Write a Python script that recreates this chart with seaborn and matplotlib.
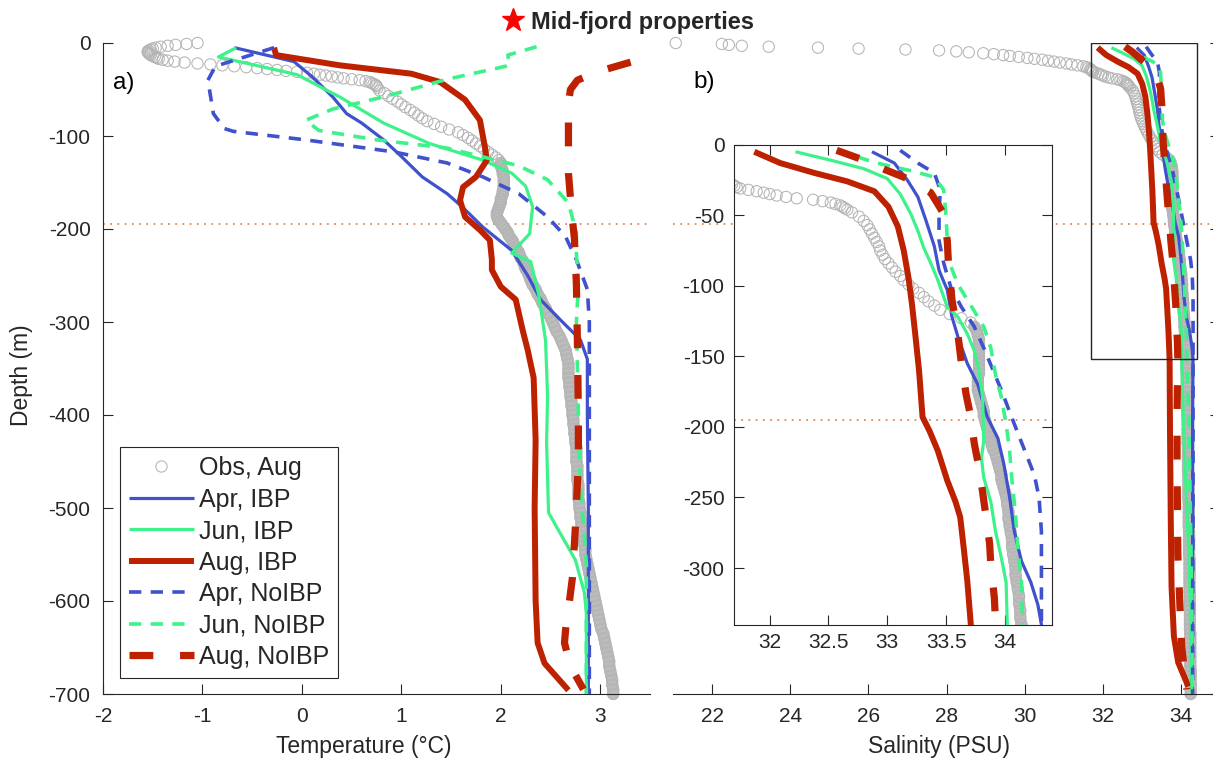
import matplotlib
matplotlib.use("Agg")
import matplotlib.pyplot as plt
import seaborn as sns
from matplotlib.lines import Line2D
from matplotlib.patches import Rectangle

# ---------------- DATA ----------------
obs_depth = [0, -1, -2, -3, -4, -5, -6, -7, -8, -9, -10, -11, -12, -13, -14, -15, -16, -17, -18, -19,
             -20, -21, -22, -23, -24, -25, -26, -27, -28, -29, -30,
             -31, -32, -33, -34, -35, -36, -37, -38, -39, -40, -41, -42, -43, -44, -45, -46,
             -48, -51, -54, -57, -60, -63, -66, -69, -72, -75,
             -78, -81, -84, -87, -90, -93, -96, -99, -102, -105,
             -108, -111, -114, -117, -120, -123, -126, -129, -132, -135,
             -138, -141, -144, -147, -150, -153, -156, -159, -162, -165,
             -168, -171, -174, -177, -180, -183, -186, -189, -192, -195,
             -198, -201, -204, -207, -210, -213, -216, -219, -222, -225,
             -228, -231, -234, -237, -240, -243, -246, -249,
             -255, -260, -265, -270, -275, -280, -285, -290, -295, -300,
             -305, -310, -315, -320, -325, -330, -335, -340, -345, -350,
             -355, -360, -365, -370, -375, -380, -385, -390, -395, -400,
             -405, -410, -415, -420, -425, -430, -435, -440, -445, -450,
             -455, -460, -465, -470, -475, -480, -485, -490, -495, -500,
             -505, -510, -515, -520, -525, -530, -535, -540, -545, -550,
             -555, -560, -565, -570, -575, -580, -585, -590, -595, -600,
             -605, -610, -615, -620, -625, -630, -635, -640, -645, -650,
             -655, -660, -665, -670, -675, -680, -685, -690, -695, -700]
obs_T = [-1.05, -1.16, -1.27, -1.35, -1.42, -1.47, -1.50, -1.52, -1.54, -1.55, -1.55, -1.54, -1.53,
         -1.52, -1.50, -1.48, -1.46, -1.44, -1.40, -1.35, -1.28, -1.18, -1.05, -0.92, -0.80, -0.68,
         -0.56, -0.45, -0.35, -0.25, -0.16,
         -0.05, 0.05, 0.12, 0.18, 0.24, 0.30, 0.36, 0.42, 0.50, 0.58, 0.64, 0.68, 0.70, 0.72, 0.74, 0.75,
         0.76, 0.78, 0.83, 0.87, 0.91, 0.96, 1.00, 1.04, 1.09, 1.13,
         1.17, 1.21, 1.26, 1.33, 1.40, 1.48, 1.57, 1.62, 1.67, 1.71,
         1.75, 1.79, 1.83, 1.87, 1.91, 1.95, 1.98, 2.00, 2.00, 2.01,
         2.02, 2.02, 2.03, 2.03, 2.03, 2.03, 2.03, 2.02, 2.02, 2.01,
         2.00, 2.00, 1.99, 1.98, 1.97, 1.96, 1.96, 1.97, 1.99, 2.01,
         2.03, 2.05, 2.07, 2.08, 2.10, 2.12, 2.13, 2.15, 2.16, 2.18,
         2.19, 2.20, 2.22, 2.23, 2.24, 2.25, 2.27, 2.28,
         2.30, 2.32, 2.35, 2.37, 2.40, 2.42, 2.45, 2.47, 2.50, 2.52,
         2.54, 2.56, 2.59, 2.61, 2.63, 2.65, 2.66, 2.67, 2.68, 2.68,
         2.68, 2.68, 2.69, 2.69, 2.70, 2.70, 2.71, 2.71, 2.72, 2.72,
         2.73, 2.73, 2.74, 2.74, 2.75, 2.75, 2.76, 2.76, 2.76, 2.76,
         2.77, 2.77, 2.77, 2.77, 2.78, 2.78, 2.78, 2.78, 2.79, 2.79,
         2.80, 2.80, 2.81, 2.81, 2.82, 2.82, 2.83, 2.84, 2.85, 2.85,
         2.86, 2.87, 2.88, 2.89, 2.90, 2.91, 2.92, 2.93, 2.94, 2.95,
         2.96, 2.97, 2.98, 2.99, 3.00, 3.01, 3.03, 3.04, 3.05, 3.06,
         3.07, 3.08, 3.09, 3.09, 3.10, 3.11, 3.12, 3.12, 3.13, 3.13]
obs_S = [21.07, 22.25, 22.43, 22.76, 23.45, 24.71, 25.75, 26.95, 27.81, 28.25, 28.57, 28.94, 29.21,
         29.45, 29.62, 29.85, 30.07, 30.25, 30.45, 30.60, 30.75, 30.90, 31.07, 31.20, 31.35, 31.50,
         31.58, 31.63, 31.68, 31.70, 31.72,
         31.75, 31.82, 31.89, 31.95, 32.00, 32.06, 32.14, 32.23, 32.37, 32.45, 32.52, 32.56, 32.60,
         32.62, 32.64, 32.66,
         32.70, 32.76, 32.80, 32.83, 32.85, 32.87, 32.89, 32.91, 32.93, 32.94,
         32.96, 32.98, 33.01, 33.04, 33.07, 33.11, 33.14, 33.18, 33.22, 33.27,
         33.31, 33.35, 33.40, 33.45, 33.53, 33.63, 33.71, 33.74, 33.76, 33.77,
         33.78, 33.78, 33.78, 33.78, 33.78, 33.78, 33.78, 33.78, 33.78, 33.77,
         33.77, 33.77, 33.77, 33.78, 33.79, 33.80, 33.81, 33.82, 33.82, 33.83,
         33.84, 33.85, 33.86, 33.87, 33.88, 33.89, 33.90, 33.92, 33.93, 33.94,
         33.95, 33.96, 33.97, 33.97, 33.98, 33.99, 34.00, 34.01,
         34.02, 34.03, 34.03, 34.04, 34.05, 34.06, 34.06, 34.07, 34.08, 34.09,
         34.09, 34.10, 34.11, 34.12, 34.12, 34.13, 34.13, 34.14, 34.14, 34.14,
         34.15, 34.15, 34.15, 34.15, 34.16, 34.16, 34.16, 34.16, 34.16, 34.16,
         34.17, 34.17, 34.17, 34.17, 34.17, 34.17, 34.18, 34.18, 34.18, 34.18,
         34.18, 34.18, 34.19, 34.19, 34.19, 34.19, 34.19, 34.19, 34.20, 34.20,
         34.20, 34.20, 34.20, 34.20, 34.21, 34.21, 34.21, 34.21, 34.21, 34.21,
         34.22, 34.22, 34.22, 34.22, 34.22, 34.22, 34.22, 34.22, 34.23, 34.23,
         34.23, 34.23, 34.23, 34.23, 34.23, 34.23, 34.24, 34.24, 34.24, 34.24,
         34.24, 34.24, 34.24, 34.24, 34.25, 34.25, 34.25, 34.25, 34.25, 34.25]

# Temperature profiles
apr_ibp_Td = [-5, -20, -36, -58, -76, -86, -104, -122, -144, -162, -176, -198, -223, -250, -276,
              -300, -319, -340, -400, -500, -600, -700]
apr_ibp_T = [-0.68, -0.08, 0.10, 0.31, 0.45, 0.60, 0.82, 1.00, 1.21, 1.46, 1.61, 1.82, 2.11, 2.27,
             2.40, 2.62, 2.80, 2.87, 2.87, 2.88, 2.88, 2.88]
jun_ibp_Td = [-5, -15, -34, -58, -86, -108, -126, -140, -154, -176, -205, -226, -235, -270, -320,
              -380, -430, -505, -556, -591, -613, -700]
jun_ibp_T = [-0.66, -0.84, -0.05, 0.38, 0.82, 1.28, 1.82, 2.11, 2.25, 2.32, 2.29, 2.11, 2.30, 2.38,
             2.45, 2.47, 2.46, 2.48, 2.75, 2.84, 2.86, 2.86]
aug_ibp_Td = [-5, -13, -24, -33, -42, -61, -83, -112, -126, -144, -155, -169, -187, -201, -212, -233,
              -244, -262, -276, -309, -330, -360, -427, -500, -600, -645, -667, -696]
aug_ibp_T = [-0.28, -0.26, 0.38, 1.10, 1.39, 1.64, 1.79, 1.84, 1.86, 1.75, 1.62, 1.59, 1.64, 1.79,
             1.89, 1.91, 1.91, 2.00, 2.15, 2.22, 2.27, 2.33, 2.35, 2.34, 2.35, 2.37, 2.44, 2.68]
apr_nbp_Td = [-5, -25, -40, -76, -92, -95, -104, -117, -129, -144, -162, -187, -208, -233, -265,
              -300, -400, -500, -600, -700]
apr_nbp_T = [-0.28, -0.87, -0.945, -0.89, -0.78, -0.69, 0.025, 0.92, 1.46, 1.82, 2.18, 2.47, 2.65,
             2.76, 2.87, 2.89, 2.89, 2.89, 2.89, 2.89]
jun_nbp_Td = [-4, -13, -24, -39, -58, -71, -83, -94, -104, -113, -132, -147, -172, -204, -226, -260,
              -300, -400, -480, -530, -560, -700]
jun_nbp_T = [2.36, 2.07, 2.09, 1.46, 0.82, 0.31, 0.04, 0.17, 0.74, 1.46, 2.18, 2.47, 2.68, 2.76,
             2.76, 2.78, 2.76, 2.78, 2.80, 2.84, 2.86, 2.86]
aug_nbp_Td = [-8, -15, -22, -31, -40, -50, -65, -100, -140, -180, -210, -260, -320, -400, -450,
              -520, -575, -600, -620, -645, -670, -695]
aug_nbp_T = [3.80, 3.50, 3.26, 2.97, 2.77, 2.70, 2.68, 2.68, 2.68, 2.71, 2.74, 2.76, 2.77, 2.78,
             2.78, 2.75, 2.72, 2.69, 2.66, 2.64, 2.70, 2.83]

# Salinity profiles
apr_ibp_Sd = [-5, -13, -25, -37, -54, -72, -89, -103, -122, -136, -155, -170, -193, -208, -226,
              -250, -274, -295, -310, -326, -340, -400, -500, -600, -700]
apr_ibp_S = [32.87, 33.06, 33.17, 33.26, 33.33, 33.40, 33.44, 33.51, 33.55, 33.60, 33.68, 33.77,
             33.85, 33.94, 33.99, 34.04, 34.08, 34.14, 34.22, 34.28, 34.31, 34.30, 34.30, 34.29, 34.29]
jun_ibp_Sd = [-5, -11, -17, -24, -35, -49, -61, -73, -84, -96, -108, -115, -122, -134, -146, -160,
              -179, -210, -222, -236, -253, -274, -293, -310, -340, -400, -450, -500, -550, -600, -700]
jun_ibp_S = [32.22, 32.52, 32.80, 33.00, 33.11, 33.20, 33.26, 33.31, 33.37, 33.43, 33.48, 33.51,
             33.60, 33.68, 33.74, 33.78, 33.81, 33.82, 33.80, 33.82, 33.88, 33.92, 33.97, 34.01,
             34.02, 34.06, 34.10, 34.15, 34.20, 34.24, 34.27]
aug_ibp_Sd = [-5, -13, -20, -26, -33, -44, -58, -75, -94, -113, -136, -160, -193, -203, -217, -238,
              -253, -264, -286, -309, -340, -417, -513, -585, -638, -666, -692]
aug_ibp_S = [31.87, 32.09, 32.38, 32.66, 32.89, 33.01, 33.09, 33.14, 33.18, 33.21, 33.24, 33.27,
             33.30, 33.36, 33.43, 33.51, 33.58, 33.62, 33.65, 33.68, 33.71, 33.72, 33.74, 33.76,
             33.82, 33.93, 34.19]
apr_nbp_Sd = [-4, -13, -20, -32, -51, -68, -84, -101, -115, -129, -144, -156, -174, -198, -215,
              -234, -250, -274, -298, -340, -400, -500, -600, -700]
apr_nbp_S = [33.11, 33.26, 33.40, 33.45, 33.44, 33.44, 33.48, 33.54, 33.63, 33.74, 33.82, 33.88,
             33.97, 34.08, 34.16, 34.25, 34.29, 34.31, 34.31, 34.31, 34.31, 34.31, 34.30, 34.30]
jun_nbp_Sd = [-4, -13, -19, -23, -32, -51, -68, -84, -99, -118, -129, -144, -163, -179, -198, -217,
              -238, -262, -286, -310, -340, -400, -500, -600, -700]
jun_nbp_S = [32.57, 32.91, 33.23, 33.40, 33.48, 33.50, 33.51, 33.53, 33.60, 33.74, 33.82, 33.88,
             33.92, 33.97, 34.01, 34.04, 34.06, 34.09, 34.11, 34.14, 34.15, 34.20, 34.24, 34.28, 34.29]
aug_nbp_Sd = [-4, -10, -18, -24, -34, -49, -68, -84, -110, -134, -155, -177, -193, -212, -229, -246,
              -264, -283, -298, -321, -338, -400, -450, -500, -550, -600, -650, -695]
aug_nbp_S = [32.57, 32.77, 32.99, 33.17, 33.37, 33.48, 33.51, 33.52, 33.55, 33.60, 33.63, 33.67,
             33.71, 33.74, 33.78, 33.81, 33.84, 33.87, 33.88, 33.91, 33.92, 33.90, 33.90, 33.91,
             33.92, 33.97, 34.02, 34.15]

ref_depth = -195
labels = ["Obs, Aug", "Apr, IBP", "Jun, IBP", "Aug, IBP", "Apr, NoIBP", "Jun, NoIBP", "Aug, NoIBP"]
T_ticks = [-2, -1, 0, 1, 2, 3]
S_ticks = [22, 24, 26, 28, 30, 32, 34]
D_ticks = [0, -100, -200, -300, -400, -500, -600, -700]
I_xticks = [32, 32.5, 33, 33.5, 34]
I_yticks = [0, -50, -100, -150, -200, -250, -300]

# ---------------- STYLE ----------------
sns.set_theme(style="ticks")
plt.rcParams["font.family"] = ["Liberation Sans", "DejaVu Sans"]
plt.rcParams["axes.unicode_minus"] = False
plt.rcParams["lines.scale_dashes"] = True
INK = "#262626"
BLUE, GREEN, RED, GREY, DOT = "#3F51CC", "#3DF28A", "#BE2100", "#B4B4B4", "#E0875A"
BAND = "#BDBDBD"
styles = {
    "Apr, IBP": dict(color=BLUE, lw=2.3, dashes=None),
    "Jun, IBP": dict(color=GREEN, lw=2.3, dashes=None),
    "Aug, IBP": dict(color=RED, lw=4.3, dashes=None),
    "Apr, NoIBP": dict(color=BLUE, lw=2.6, dashes=(3.4, 2.6)),
    "Jun, NoIBP": dict(color=GREEN, lw=2.6, dashes=(3.4, 2.6)),
    "Aug, NoIBP": dict(color=RED, lw=5.2, dashes=(3.3, 3.7)),
}
T_series = {"Apr, IBP": (apr_ibp_T, apr_ibp_Td), "Jun, IBP": (jun_ibp_T, jun_ibp_Td),
            "Aug, IBP": (aug_ibp_T, aug_ibp_Td), "Apr, NoIBP": (apr_nbp_T, apr_nbp_Td),
            "Jun, NoIBP": (jun_nbp_T, jun_nbp_Td), "Aug, NoIBP": (aug_nbp_T, aug_nbp_Td)}
S_series = {"Apr, IBP": (apr_ibp_S, apr_ibp_Sd), "Jun, IBP": (jun_ibp_S, jun_ibp_Sd),
            "Aug, IBP": (aug_ibp_S, aug_ibp_Sd), "Apr, NoIBP": (apr_nbp_S, apr_nbp_Sd),
            "Jun, NoIBP": (jun_nbp_S, jun_nbp_Sd), "Aug, NoIBP": (aug_nbp_S, aug_nbp_Sd)}

W, H = 1213, 759
fig = plt.figure(figsize=(W / 100, H / 100), dpi=100)


def px_axes(x0, y0, x1, y1, **kw):
    return fig.add_axes([x0 / W, 1 - y1 / H, (x1 - x0) / W, (y1 - y0) / H], **kw)


axT = px_axes(103, 43, 650, 694)
axS = px_axes(673, 43, 1220, 694)
axI = px_axes(734.3, 144.7, 1052, 624.5, facecolor="white")
axI.set_zorder(5)

band_from = obs_depth.index(-129)   # below here the 1-m CTD circles merge into a solid band


def draw_obs(ax, x, clip):
    # merged (dense) part of the cast drawn as a band under the circles
    sns.lineplot(x=x[band_from:], y=obs_depth[band_from:], ax=ax, sort=False, estimator=None,
                 color=BAND, linewidth=8.6, legend=False, zorder=0.9)
    bl = ax.lines[-1]
    bl.set_solid_capstyle("round")
    bl.set_clip_on(clip)
    sns.scatterplot(x=x, y=obs_depth, ax=ax, marker="o", s=66, legend=False, zorder=1)
    pc = ax.collections[-1]
    pc.set_facecolor("none")
    pc.set_edgecolor(GREY)
    pc.set_linewidth(0.75)
    pc.set_clip_on(clip)


def draw_line(ax, x, y, st):
    sns.lineplot(x=x, y=y, ax=ax, sort=False, estimator=None, color=st["color"],
                 linewidth=st["lw"], legend=False, zorder=3)
    ln = ax.lines[-1]
    ln.set_solid_capstyle("butt")
    ln.set_dash_capstyle("butt")
    ln.set_solid_joinstyle("round")
    if st["dashes"]:
        ln.set_dashes(st["dashes"])


# Left panel: temperature
draw_obs(axT, obs_T, False)
for name in labels[1:]:
    draw_line(axT, *T_series[name], styles[name])
# Right panel: salinity (full) and inset
draw_obs(axS, obs_S, False)
draw_obs(axI, obs_S, True)
for name in labels[1:]:
    draw_line(axS, *S_series[name], styles[name])
    draw_line(axI, *S_series[name], styles[name])

for ax in (axT, axS, axI):
    ax.axhline(ref_depth, color=DOT, lw=1.3, dashes=(1, 3), zorder=0.5)
    ax.set_xlabel("")
    ax.set_ylabel("")

inset_xlim, inset_ylim = (31.7, 34.4), (-340, 0)

# Axes formatting
axT.set_xlim(-2, 3.5)
axT.set_ylim(-700, 0)
axT.set_xticks(T_ticks)
axT.set_yticks(D_ticks)
axT.spines[["top", "right"]].set_visible(False)
axT.tick_params(direction="in", length=7, width=0.8, labelsize=15, pad=9, colors=INK)
axT.set_xlabel("Temperature (°C)", fontsize=16.5, color=INK)
axT.set_ylabel("Depth (m)", fontsize=16.5, color=INK)
axT.xaxis.set_label_coords(0.477, -0.063)
axT.yaxis.set_label_coords(-0.128, 0.49)

axS.set_xlim(21, 35)
axS.set_ylim(-700, 0)
axS.set_xticks(S_ticks)
axS.set_yticks(D_ticks)
axS.spines[["top", "left"]].set_visible(False)
axS.yaxis.tick_right()
axS.tick_params(direction="in", length=7, width=0.8, labelsize=15, pad=9, colors=INK)
axS.tick_params(axis="y", labelright=False)
axS.set_xlabel("Salinity (PSU)", fontsize=16.5, color=INK)
axS.xaxis.set_label_coords(0.486, -0.063)
axS.add_patch(Rectangle((inset_xlim[0], inset_ylim[0]), inset_xlim[1] - inset_xlim[0],
                        inset_ylim[1] - inset_ylim[0], fill=False, ec=INK, lw=1.0, zorder=4))

axI.set_xlim(*inset_xlim)
axI.set_ylim(*inset_ylim)
axI.set_xticks(I_xticks)
axI.set_xticklabels(["32", "32.5", "33", "33.5", "34"])
axI.set_yticks(I_yticks)
for sp in axI.spines.values():
    sp.set_visible(True)
    sp.set_color(INK)
    sp.set_linewidth(0.8)
axI.tick_params(direction="in", length=7, width=0.8, labelsize=15, colors=INK,
                top=True, right=True, labeltop=False, labelright=False)
axI.tick_params(axis="x", pad=6)
axI.tick_params(axis="y", pad=7)

for ax in (axT, axS):
    for sp in ax.spines.values():
        sp.set_color(INK)
        sp.set_linewidth(0.8)

axT.text(0.018, 0.9386, "a)", transform=axT.transAxes, fontsize=17.5, va="center", ha="left", color="black")
axS.text(0.0366, 0.94, "b)", transform=axS.transAxes, fontsize=17.5, va="center", ha="left", color="black")

# Legend
handles = [Line2D([], [], marker="o", linestyle="none", markerfacecolor="none", markeredgecolor=GREY,
                  markersize=8.1, markeredgewidth=0.75)]
for name in labels[1:]:
    st = styles[name]
    h = Line2D([], [], color=st["color"], lw=st["lw"], solid_capstyle="butt", dash_capstyle="butt")
    if st["dashes"]:
        h.set_dashes(st["dashes"])
    handles.append(h)
leg = axT.legend(handles, labels, loc="lower left", bbox_to_anchor=(0.031, 0.0246), borderaxespad=0,
                 frameon=True, fancybox=False, edgecolor=INK, framealpha=1, fontsize=18,
                 handlelength=2.6, handletextpad=0.2, labelspacing=0.3, borderpad=0.35)
leg.get_frame().set_linewidth(0.8)
leg.set_zorder(10)

# Top marker legend
star = Line2D([], [], marker="*", color="red", linestyle="none", markersize=17)
fig.legend([star], ["Mid-fjord properties"], loc="center left", bbox_to_anchor=(501 / W, 1 - 22 / H),
           frameon=False, borderpad=0, borderaxespad=0, handlelength=1.0, handletextpad=0.25,
           prop={"weight": "bold", "size": 17})

fig.savefig("out.png", dpi=100)
